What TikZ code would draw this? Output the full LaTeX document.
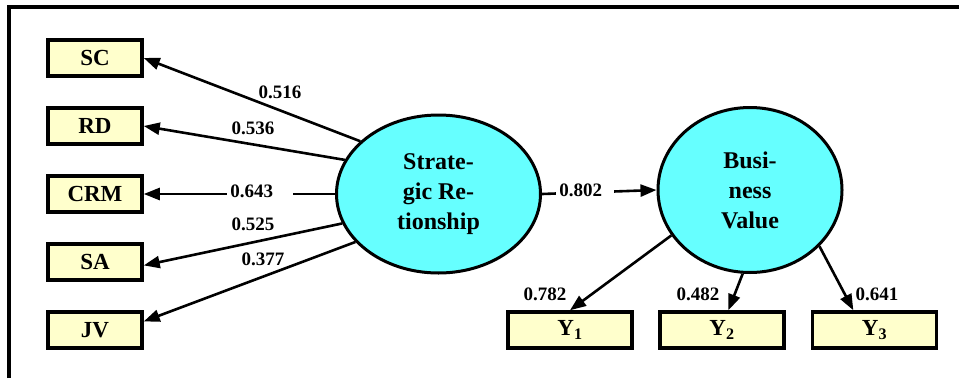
\documentclass[tikz,border=0pt]{standalone}
\usepackage{fontspec}
\setmainfont{Liberation Serif}
\usetikzlibrary{arrows.meta,shapes.geometric}

\definecolor{cffc}{RGB}{255,255,204}
\definecolor{c6ff}{RGB}{102,255,255}

\begin{document}
\begin{tikzpicture}[x=1pt, y=-1pt, line width=2.6pt,
  ind/.style={draw, line width=3.5pt, fill=cffc, inner sep=0pt,
    minimum height=36pt, font=\bfseries\fontsize{23}{25}\selectfont},
  lat/.style={draw, ellipse, line width=3pt, fill=c6ff, inner sep=0pt,
    align=center, font=\bfseries\fontsize{24}{30}\selectfont},
  lbl/.style={inner sep=1pt, font=\bfseries\fontsize{19}{21}\selectfont},
  gap/.style={lbl, fill=white, anchor=west, text width=#1,
    inner xsep=3pt, align=left},
  arr/.style={-{Triangle[length=16pt,width=12pt]}}]

\useasboundingbox (0,0) rectangle (959,378);

% The frame is open on the right and at the bottom, since the
% picture was cut out of a bigger page.
\draw[line width=3.5pt] (9,378) -- (9,7) -- (959,7);

% Indicator boxes on the left, all the same size.
\foreach \y/\name in {58/SC, 126/RD, 194/CRM, 262/SA, 330/JV}
  \node[ind, minimum width=94pt] (\name) at (95,\y) {\name};

% The Y boxes under the second ellipse are wider.
\foreach \x/\i in {570/1, 722/2, 874.5/3}
  \node[ind, minimum width=124pt] (Y\i) at (\x,330) {Y\textsubscript{\i}};

\node[lat, minimum width=204pt, minimum height=158pt] (SR) at (438.5,194)
  {Strate-\\gic Re-\\tionship};
\node[lat, minimum width=184pt, minimum height=165pt] (BV) at (750,190)
  {Busi-\\ness\\Value};

% Loadings.  The start angles are picked off the ellipse by hand.
\foreach \from/\to in {146/SC.east, 160/RD.east, 180/CRM.east,
                       197/SA.-4, 210/JV.10}
  \draw[arr] (SR.\from) -- (\to);

\foreach \from/\to in {210/Y1.north, 265/Y2.72, -39/Y3.137}
  \draw[arr] (BV.\from) -- (\to);

\draw[arr] (SR.east) -- (BV.west);

% Numbers go last; two of them sit on the line and blank it out.
\foreach \x/\y/\name/\val in {280/92/lSC/0.516, 253/128/lRD/0.536,
    253/224/lSA/0.525, 263/259/lJV/0.377, 545/294/lYa/0.782,
    698/294/lYb/0.482, 877/294/lYc/0.641}
  \node[lbl] (\name) at (\x,\y) {\val};

\node[gap=60pt] (lCRM) at (226,191) {0.643};
\node[gap=52pt] (lBV) at (555,190) {0.802};

\end{tikzpicture}
\end{document}
